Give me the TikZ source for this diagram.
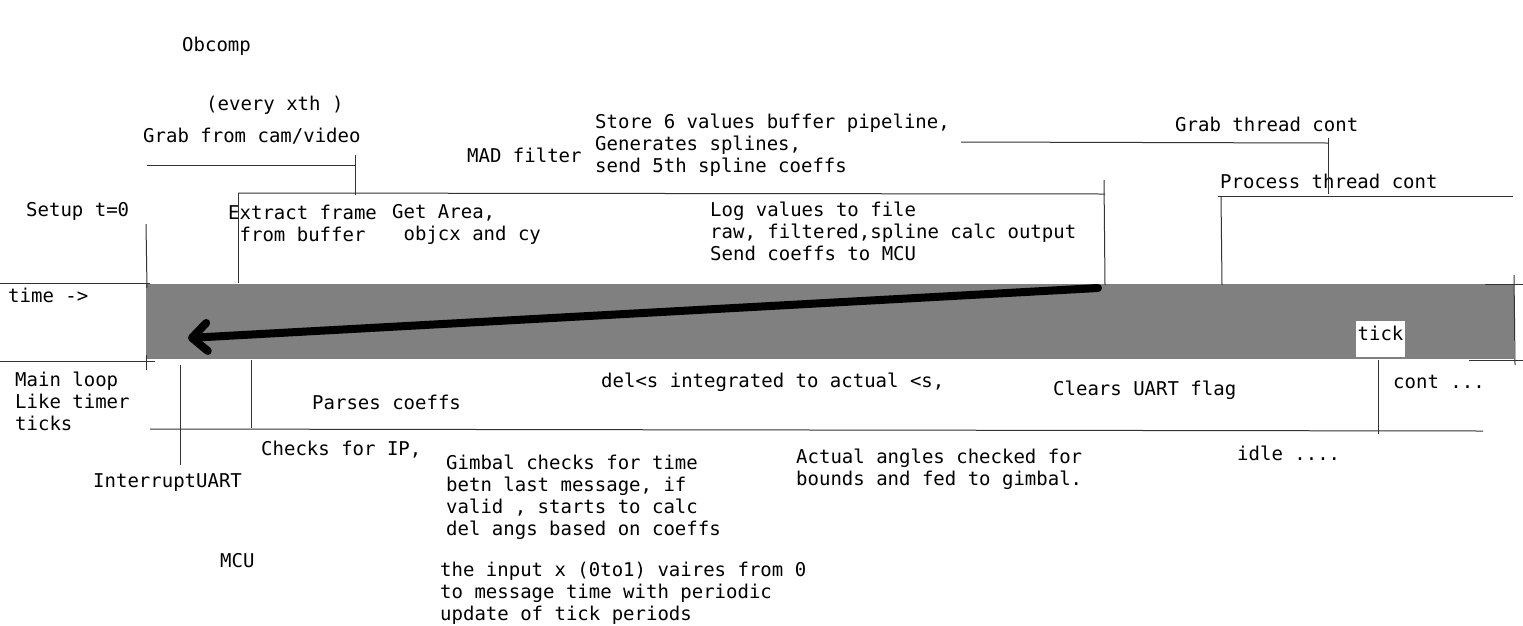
\documentclass[tikz,border=0pt]{standalone}
\usepackage{fontspec}
\setmonofont{DejaVu Sans Mono}
\usepackage{tikz}
\usetikzlibrary{arrows.meta}
\definecolor{bandgray}{gray}{0.5}

\begin{document}
\begin{tikzpicture}[x=1pt, y=-1pt,
    note/.style={inner sep=0pt, anchor=west, font=\ttfamily\fontsize{19}{22}\selectfont},
    para/.style={note, anchor=north west, align=left},
    rule/.style={black!80, line width=1pt}]
    \useasboundingbox (0,0) rectangle (1523,625);

    % Band
    \fill[bandgray] (146,284) rectangle (1514,359);

    % Obcomp side
    \node[note] (obcomp) at (182,46) {Obcomp};
    \node[note] (every) at (206,105) {(every xth )};
    \node[note] (grab) at (143,136) {Grab from cam/video};
    \node[note] (mad) at (467,155) {MAD filter};
    \node[para] (store) at (595,114)
        {Store 6 values buffer pipeline,\\Generates splines,\\send 5th spline coeffs};
    \node[note] (grabcont) at (1175,124) {Grab thread cont};
    \node[note] (proccont) at (1220,181) {Process thread cont};
    \node[note] (setup) at (26,211) {Setup t=0};
    \node[para, align=center] (extract) at (228,205) {Extract frame\\from buffer};
    \node[para] (getarea) at (392,204) {Get Area,\\\hphantom{x}objcx and cy};
    \node[para] (logvals) at (710,202)
        {Log values to file\\raw, filtered,spline calc output\\Send coeffs to MCU};
    \node[note] (time) at (8,295) {time ->};

    % Top lines
    \draw[rule] (147,165) -- (355,165);
    \draw[rule] (355,155) -- (355,195);
    \draw[rule] (238,193) -- (1105,194);
    \draw[rule] (238,193) -- (238,283);
    \draw[rule] (1104,180) -- (1105,285);
    \draw[rule] (961,142) -- (1328,143);
    \draw[rule] (1328,138) -- (1328,194);
    \draw[rule] (1218,196) -- (1513,196);
    \draw[rule] (1221,196) -- (1222,285);
    \draw[rule] (146,224) -- (147,288);

    % Band edges
    \draw[rule] (0,283) -- (150,283);
    \draw[rule] (0,361) -- (155,361);
    \draw[rule] (146,355) -- (146,370);
    \draw[rule] (1485,284) -- (1523,284);
    \draw[rule] (1469,360) -- (1523,360);
    \draw[rule] (1514,275) -- (1515,365);

    % MCU side
    \node[para] (mainloop) at (15,372) {Main loop\\Like timer\\ticks};
    \node[note] (parses) at (312,402) {Parses coeffs};
    \node[note] (dels) at (601,382) {del<s integrated to actual <s,};
    \node[note] (clears) at (1053,390) {Clears UART flag};
    \node[note] (cont) at (1393,382) {cont ...};
    \node[note] (checks) at (261,450) {Checks for IP,};
    \node[note] (interrupt) at (93,483) {InterruptUART};
    \node[para] (gimbal) at (446,455)
        {Gimbal checks for time\\betn last message, if\\valid , starts to calc\\del angs based on coeffs};
    \node[para] (actual) at (796,449) {Actual angles checked for\\bounds and fed to gimbal.};
    \node[note] (idle) at (1237,453) {idle ....};
    \node[note] (mcu) at (220,561) {MCU};
    \node[para] (input) at (440,562)
        {the input x (0to1) vaires from 0\\to message time with periodic\\update of tick periods};

    % Bottom lines
    \draw[rule] (180,365) -- (180,465);
    \draw[rule] (251,360) -- (251,428);
    \draw[rule] (150,429) -- (1483,431);
    \draw[rule] (1378,360) -- (1378,434);

    % Send arrow
    \coordinate (sendstart) at (1098,288);
    \coordinate (sendend) at (188,338);
    \draw[line width=8pt, line cap=round,
        -{Straight Barb[length=15pt, width=28pt, round]}] (sendstart) -- (sendend);

    % Tick
    \node[note, anchor=base, fill=white, inner xsep=2pt, inner ysep=0pt,
        text height=19pt, text depth=17pt] (tick) at (1380.5,340) {tick};
\end{tikzpicture}
\end{document}
